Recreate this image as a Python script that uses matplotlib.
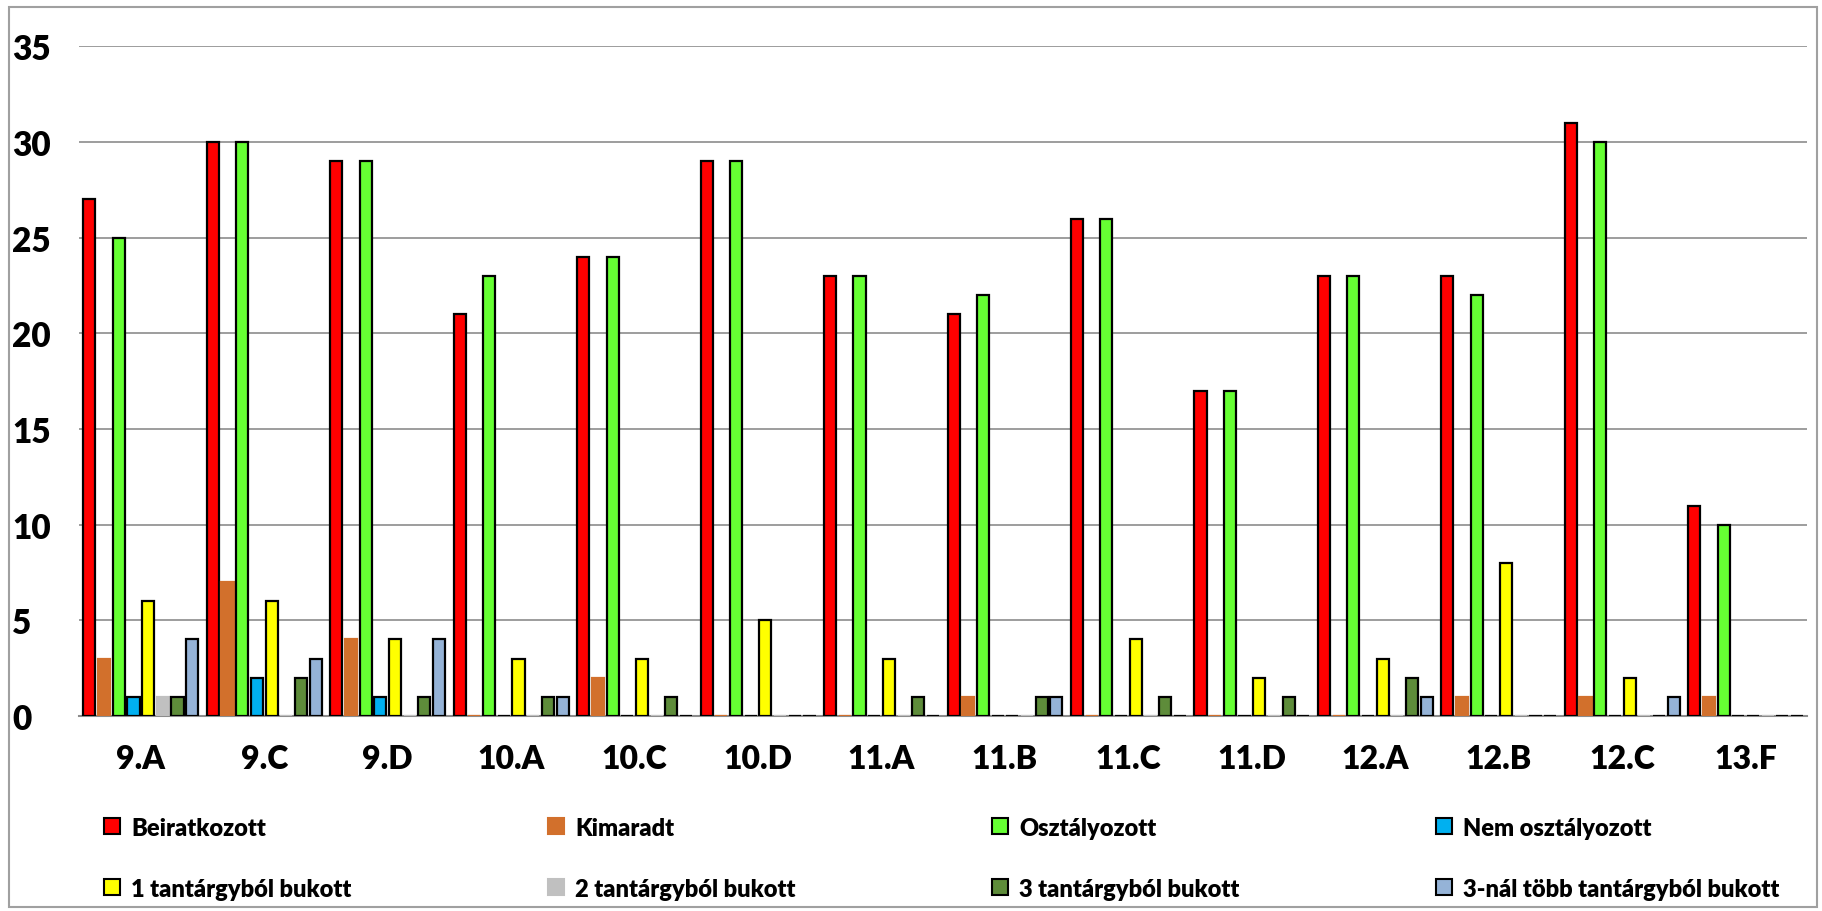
import matplotlib
matplotlib.use("Agg")
import matplotlib.pyplot as plt
from matplotlib.patches import Patch, Rectangle
import numpy as np

plt.rcParams['font.family'] = ['Lato', 'DejaVu Sans']

categories = ["9.A", "9.C", "9.D", "10.A", "10.C", "10.D", "11.A", "11.B",
              "11.C", "11.D", "12.A", "12.B", "12.C", "13.F"]
series_names = ["Beiratkozott", "Kimaradt", "Osztályozott", "Nem osztályozott",
                "1 tantárgyból bukott", "2 tantárgyból bukott",
                "3 tantárgyból bukott", "3-nál több tantárgyból bukott"]
beiratkozott = [27, 30, 29, 21, 24, 29, 23, 21, 26, 17, 23, 23, 31, 11]
kimaradt = [3, 7, 4, 0, 2, 0, 0, 1, 0, 0, 0, 1, 1, 1]
osztalyozott = [25, 30, 29, 23, 24, 29, 23, 22, 26, 17, 23, 22, 30, 10]
nem_osztalyozott = [1, 2, 1, 0, 0, 0, 0, 0, 0, 0, 0, 0, 0, 0]
bukott_1 = [6, 6, 4, 3, 3, 5, 3, 0, 4, 2, 3, 8, 2, 0]
bukott_2 = [1, 0, 0, 0, 0, 0, 0, 0, 0, 0, 0, 0, 0, 0]
bukott_3 = [1, 2, 1, 1, 1, 0, 1, 1, 1, 1, 2, 0, 0, 0]
bukott_tobb = [4, 3, 4, 1, 0, 0, 0, 1, 0, 0, 1, 0, 1, 0]
yticks = [0, 5, 10, 15, 20, 25, 30, 35]

series = [beiratkozott, kimaradt, osztalyozott, nem_osztalyozott,
          bukott_1, bukott_2, bukott_3, bukott_tobb]
colors = ["#FF0000", "#D2702C", "#66FF33", "#00B0F0",
          "#FFFF00", "#C0C0C0", "#5E8C3A", "#95B3D7"]
edges = ["#000000", "#D2702C", "#000000", "#000000",
         "#000000", "#C0C0C0", "#000000", "#000000"]

fig = plt.figure(figsize=(18.22, 9.12), dpi=100)
ax = fig.add_axes([0.0434, 0.2138, 0.9486, 0.7342])

x = np.arange(len(categories))
step = 0.119
width = 0.098
for i, (vals, c, e) in enumerate(zip(series, colors, edges)):
    offs = (i - 3.5) * step
    ax.bar(x + offs, vals, width=width, color=c, edgecolor=e,
           linewidth=1.6, zorder=3)

ax.set_xlim(-0.5, len(categories) - 0.5)
ax.set_ylim(0, 35)
ax.set_yticks(yticks)
ax.set_yticklabels([str(t) for t in yticks], fontsize=24, fontweight='heavy',
                   ha='left')
ax.tick_params(axis='y', length=0, pad=48)
ax.set_xticks(x)
ax.set_xticklabels(categories, fontsize=23, fontweight='heavy')
ax.tick_params(axis='x', length=0, pad=20)
ax.yaxis.grid(True, color='#8C8C8C', linewidth=1.2, zorder=0)
ax.set_axisbelow(True)
for s in ['top', 'right', 'left']:
    ax.spines[s].set_visible(False)
ax.spines['bottom'].set_color('#8C8C8C')
ax.spines['bottom'].set_linewidth(1.5)
ax.spines['bottom'].set_zorder(2)

handles = [Patch(facecolor=c, edgecolor=e, linewidth=1.5) for c, e in zip(colors, edges)]
order = [0, 4, 1, 5, 2, 6, 3, 7]
fig.legend([handles[k] for k in order], [series_names[k] for k in order],
           loc='center left', ncol=4,
           bbox_to_anchor=(0.052, 0.058, 0.93, 0.0), mode='expand',
           frameon=False, prop={'size': 17, 'weight': 'heavy'},
           handlelength=0.65, handleheight=0.65, handletextpad=0.5,
           labelspacing=1.65, borderaxespad=0)

fig.patches.append(Rectangle((9 / 1822, 4 / 912), 1 - 14 / 1822, 1 - 12 / 912,
                             transform=fig.transFigure, fill=False,
                             edgecolor='#A0A0A0', linewidth=1.5))

fig.savefig("out.png", dpi=100, facecolor='white')
